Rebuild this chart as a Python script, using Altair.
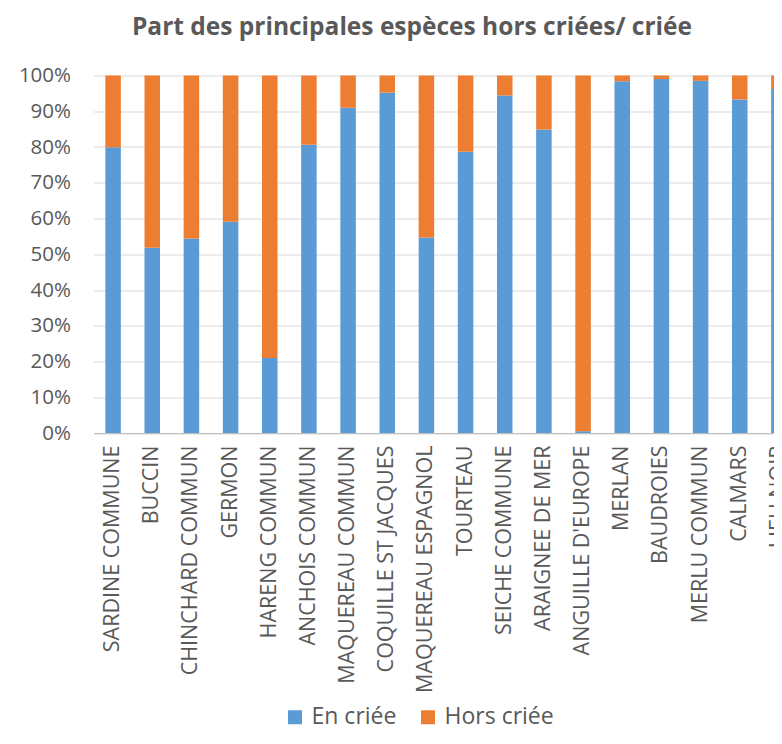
import altair as alt
import pandas as pd

species = [
    "SARDINE COMMUNE", "BUCCIN", "CHINCHARD COMMUN", "GERMON", "HARENG COMMUN",
    "ANCHOIS COMMUN", "MAQUEREAU COMMUN", "COQUILLE ST JACQUES", "MAQUEREAU ESPAGNOL",
    "TOURTEAU", "SEICHE COMMUNE", "ARAIGNEE DE MER", "ANGUILLE D'EUROPE", "MERLAN",
    "BAUDROIES", "MERLU COMMUN", "CALMARS", "LIEU NOIR",
]
en_criee = [0.799, 0.518, 0.544, 0.591, 0.210, 0.806, 0.910, 0.952, 0.547,
            0.787, 0.944, 0.849, 0.005, 0.984, 0.990, 0.985, 0.933, 0.962]
hors_criee = [0.201, 0.482, 0.456, 0.409, 0.790, 0.194, 0.090, 0.048, 0.453,
              0.213, 0.056, 0.151, 0.995, 0.016, 0.010, 0.015, 0.067, 0.038]
series = ["En criée", "Hors criée"]
colors = ["#5B9BD5", "#ED7D31"]

rows = []
for i, s in enumerate(species):
    rows.append({"espece": s, "serie": series[0], "ord": 0, "val": en_criee[i]})
    rows.append({"espece": s, "serie": series[1], "ord": 1, "val": hors_criee[i]})
df = pd.DataFrame(rows)

FONT = "Open Sans"
GREY = "#595959"

chart = alt.Chart(df).mark_bar().encode(
    x=alt.X("espece:N", sort=species, title=None,
            scale=alt.Scale(paddingInner=0.604, paddingOuter=0.302),
            axis=alt.Axis(labelAngle=270, labelAlign="right", labelBaseline="middle",
                          labelFont=FONT, labelFontSize=21.5, labelColor=GREY,
                          labelPadding=12, ticks=False, domainColor="#bfbfbf",
                          domainWidth=1.2, grid=False, labelOverlap=False,
                          labelLimit=0)),
    y=alt.Y("val:Q", stack="zero", title=None,
            scale=alt.Scale(domain=[0, 1], nice=False),
            axis=alt.Axis(format=".0%", values=[i / 10 for i in range(11)],
                          labelFont=FONT, labelFontSize=20.5, labelColor=GREY,
                          labelPadding=23, ticks=False, tickSize=0, domain=False,
                          gridColor="#d9d9d9", gridWidth=1.2)),
    color=alt.Color("serie:N", scale=alt.Scale(domain=series, range=colors),
                    legend=alt.Legend(title=None, orient="none", direction="horizontal",
                                      legendX=190, legendY=630,
                                      symbolType="square", symbolSize=196,
                                      symbolStrokeWidth=0, labelFont=FONT,
                                      labelFontSize=23, labelColor=GREY,
                                      labelOffset=5, columnPadding=20)),
    order=alt.Order("ord:Q", sort="ascending"),
).properties(
    width=705,
    height=357.5,
    title=alt.TitleParams("Part des principales espèces hors criées/ criée",
                          font=FONT, fontSize=24.5, fontWeight="bold", color=GREY,
                          anchor="middle", dx=-34, offset=25),
    autosize=alt.AutoSizeParams(type="none"),
    padding={"left": 85.5, "top": 67.5, "right": -24.5, "bottom": 302},
).configure_view(stroke=None)

chart.save("out.html", embed_options={"renderer": "svg", "actions": False})
